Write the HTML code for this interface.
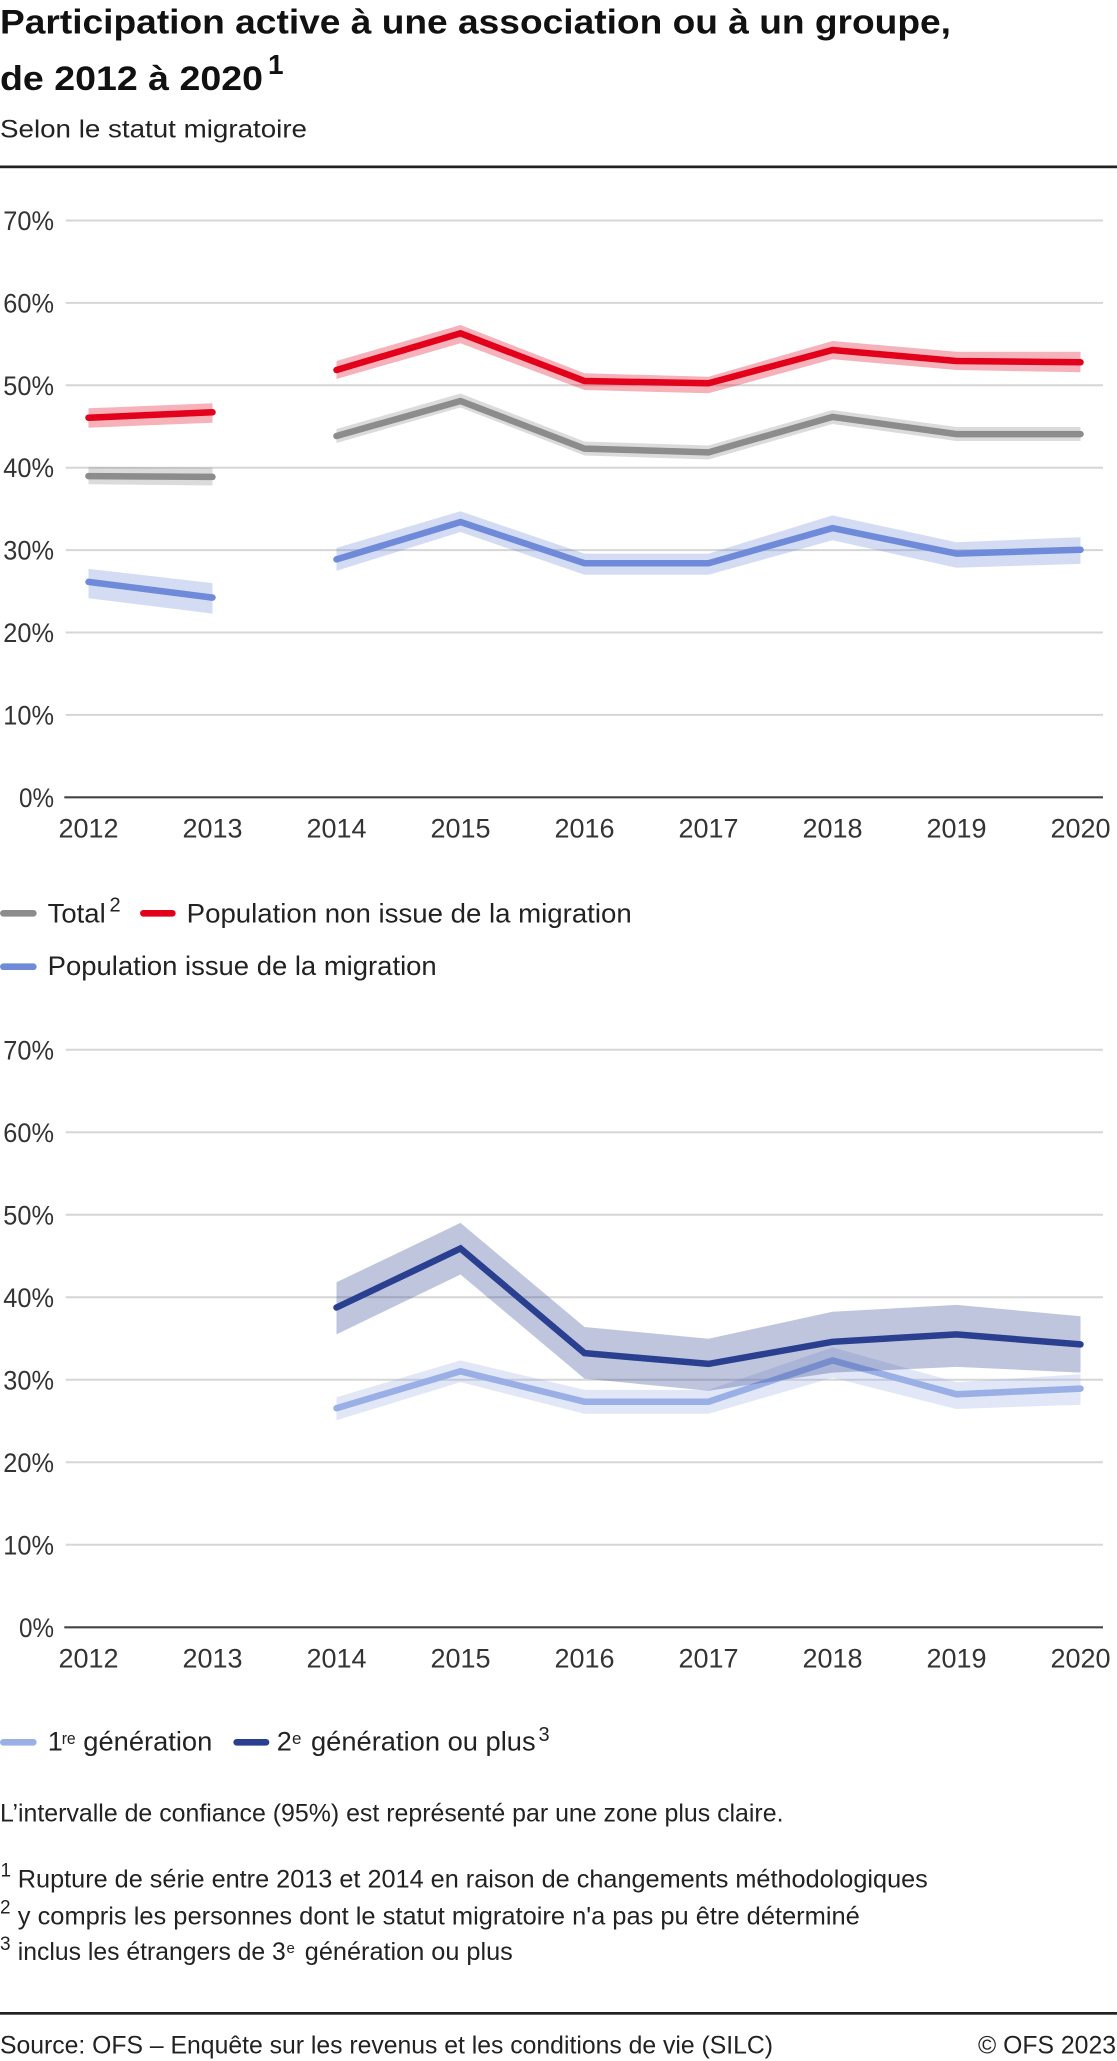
<!DOCTYPE html>
<html><head><meta charset="utf-8"><style>
html,body{margin:0;padding:0;background:#fff;}
svg{display:block;}
text{font-family:"Liberation Sans",sans-serif;}
</style></head><body>
<svg width="1117" height="2061" viewBox="0 0 1117 2061" xmlns="http://www.w3.org/2000/svg">
<rect x="0" y="0" width="1117" height="2061" fill="#fff"/>
<!-- Title -->
<text x="0" y="33.3" font-size="34" font-weight="bold" fill="#111" textLength="951" lengthAdjust="spacingAndGlyphs">Participation active à une association ou à un groupe,</text>
<text x="0" y="90" font-size="34" font-weight="bold" fill="#111" textLength="263" lengthAdjust="spacingAndGlyphs">de 2012 à 2020</text>
<text x="268" y="74" font-size="28" font-weight="bold" fill="#111">1</text>
<text x="0" y="137.3" font-size="25" fill="#222" textLength="307" lengthAdjust="spacingAndGlyphs">Selon le statut migratoire</text>
<rect x="0" y="165.5" width="1117" height="2.7" fill="#222"/>

<!-- Chart 1 grid -->
<g stroke="#d6d6d6" stroke-width="2">
<line x1="65.7" x2="1103" y1="714.9" y2="714.9"/>
<line x1="65.7" x2="1103" y1="632.5" y2="632.5"/>
<line x1="65.7" x2="1103" y1="550.1" y2="550.1"/>
<line x1="65.7" x2="1103" y1="467.7" y2="467.7"/>
<line x1="65.7" x2="1103" y1="385.3" y2="385.3"/>
<line x1="65.7" x2="1103" y1="302.9" y2="302.9"/>
<line x1="65.7" x2="1103" y1="220.5" y2="220.5"/>
</g>
<g font-size="27" fill="#333" text-anchor="end">
<text x="54" y="806.8" textLength="35" lengthAdjust="spacingAndGlyphs">0%</text>
<text x="54" y="724.4" textLength="50.7" lengthAdjust="spacingAndGlyphs">10%</text>
<text x="54" y="642" textLength="50.7" lengthAdjust="spacingAndGlyphs">20%</text>
<text x="54" y="559.6" textLength="50.7" lengthAdjust="spacingAndGlyphs">30%</text>
<text x="54" y="477.2" textLength="50.7" lengthAdjust="spacingAndGlyphs">40%</text>
<text x="54" y="394.8" textLength="50.7" lengthAdjust="spacingAndGlyphs">50%</text>
<text x="54" y="312.4" textLength="50.7" lengthAdjust="spacingAndGlyphs">60%</text>
<text x="54" y="230" textLength="50.7" lengthAdjust="spacingAndGlyphs">70%</text>
</g>

<!-- Chart 1 bands -->
<g opacity="0.3">
<polygon fill="#8c8c8c" points="88.5,466.7 212.5,467.5 212.5,485.5 88.5,484.3"/>
<polygon fill="#8c8c8c" points="336.5,429 460.5,393.5 584.5,441.5 708.5,445.5 832.5,410 956.5,427 1080.5,427 1080.5,441 956.5,441 832.5,424 708.5,459.5 584.5,455.5 460.5,407.5 336.5,443"/>
<polygon fill="#e2001a" points="88.5,408.3 212.5,403.3 212.5,422.7 88.5,427.7"/>
<polygon fill="#e2001a" points="336.5,361 460.5,325 584.5,373.3 708.5,376.7 832.5,341 956.5,351.7 1080.5,351.7 1080.5,372.3 956.5,370 832.5,359.3 708.5,393.3 584.5,390 460.5,343.3 336.5,379"/>
<polygon fill="#6f8ad9" points="88.5,568.9 212.5,583.1 212.5,613.6 88.5,598.3"/>
<polygon fill="#6f8ad9" points="336.5,547.9 460.5,511.3 584.5,553.6 708.5,553.6 832.5,515.4 956.5,542.2 1080.5,537.2 1080.5,563.9 956.5,567.8 832.5,540.3 708.5,574.7 584.5,574.7 460.5,532 336.5,570.8"/>
</g>
<!-- Chart 1 lines -->
<g fill="none" stroke-width="6.5" stroke-linecap="round" stroke-linejoin="miter">
<polyline stroke="#8c8c8c" points="88.5,476.1 212.5,476.9"/>
<polyline stroke="#8c8c8c" points="336.5,436 460.5,401 584.5,448.6 708.5,452.4 832.5,416.9 956.5,434.1 1080.5,434.1"/>
<polyline stroke="#e2001a" points="88.5,417.7 212.5,412.3"/>
<polyline stroke="#e2001a" points="336.5,370 460.5,333.3 584.5,381 708.5,383.3 832.5,350 956.5,361 1080.5,362.3"/>
<polyline stroke="#6f8ad9" points="88.5,581.9 212.5,597.6"/>
<polyline stroke="#6f8ad9" points="336.5,559.4 460.5,522 584.5,563.2 708.5,563.2 832.5,528.1 956.5,553.6 1080.5,549.8"/>
</g>
<line x1="64.3" x2="1103" y1="797.3" y2="797.3" stroke="#444" stroke-width="2.2"/>
<g font-size="27" fill="#333" text-anchor="middle">
<text x="88.5" y="837.7">2012</text>
<text x="212.5" y="837.7">2013</text>
<text x="336.5" y="837.7">2014</text>
<text x="460.5" y="837.7">2015</text>
<text x="584.5" y="837.7">2016</text>
<text x="708.5" y="837.7">2017</text>
<text x="832.5" y="837.7">2018</text>
<text x="956.5" y="837.7">2019</text>
<text x="1080.5" y="837.7">2020</text>
</g>

<!-- Legend 1 -->
<g stroke-width="6.7" stroke-linecap="round">
<line x1="3.4" x2="33.3" y1="913.3" y2="913.3" stroke="#8c8c8c"/>
<line x1="143.4" x2="172.3" y1="913.3" y2="913.3" stroke="#e2001a"/>
<line x1="3.4" x2="33.3" y1="966.7" y2="966.7" stroke="#6f8ad9"/>
</g>
<g fill="#222">
<text x="47.7" y="922.3" font-size="27" textLength="58" lengthAdjust="spacingAndGlyphs">Total</text>
<text x="109.5" y="911.7" font-size="20">2</text>
<text x="186.7" y="922.3" font-size="27" textLength="445" lengthAdjust="spacingAndGlyphs">Population non issue de la migration</text>
<text x="47.7" y="975" font-size="27" textLength="389" lengthAdjust="spacingAndGlyphs">Population issue de la migration</text>
</g>

<!-- Chart 2 grid -->
<g stroke="#d6d6d6" stroke-width="2">
<line x1="65.7" x2="1103" y1="1544.8" y2="1544.8"/>
<line x1="65.7" x2="1103" y1="1462.3" y2="1462.3"/>
<line x1="65.7" x2="1103" y1="1379.8" y2="1379.8"/>
<line x1="65.7" x2="1103" y1="1297.3" y2="1297.3"/>
<line x1="65.7" x2="1103" y1="1214.8" y2="1214.8"/>
<line x1="65.7" x2="1103" y1="1132.3" y2="1132.3"/>
<line x1="65.7" x2="1103" y1="1049.8" y2="1049.8"/>
</g>
<g font-size="27" fill="#333" text-anchor="end">
<text x="54" y="1636.8" textLength="35" lengthAdjust="spacingAndGlyphs">0%</text>
<text x="54" y="1554.3" textLength="50.7" lengthAdjust="spacingAndGlyphs">10%</text>
<text x="54" y="1471.8" textLength="50.7" lengthAdjust="spacingAndGlyphs">20%</text>
<text x="54" y="1389.3" textLength="50.7" lengthAdjust="spacingAndGlyphs">30%</text>
<text x="54" y="1306.8" textLength="50.7" lengthAdjust="spacingAndGlyphs">40%</text>
<text x="54" y="1224.3" textLength="50.7" lengthAdjust="spacingAndGlyphs">50%</text>
<text x="54" y="1141.8" textLength="50.7" lengthAdjust="spacingAndGlyphs">60%</text>
<text x="54" y="1059.3" textLength="50.7" lengthAdjust="spacingAndGlyphs">70%</text>
</g>

<!-- Chart 2 series -->
<polygon fill="#9aafe5" opacity="0.3" points="336.5,1397.3 460.5,1360.4 584.5,1389.9 708.5,1389.9 832.5,1347.4 956.5,1382.1 1080.5,1374.3 1080.5,1404.7 956.5,1409 832.5,1377.8 708.5,1413.8 584.5,1413.8 460.5,1382.1 336.5,1420.3"/>
<polyline fill="none" stroke="#9aafe5" stroke-width="6.5" stroke-linecap="round" points="336.5,1408.2 460.5,1371.3 584.5,1401.7 708.5,1401.7 832.5,1360.4 956.5,1394.3 1080.5,1388.6"/>
<polygon fill="#2a3f8f" opacity="0.3" points="336.5,1282.3 460.5,1222.9 584.5,1327 708.5,1338.7 832.5,1311.8 956.5,1304.9 1080.5,1316.2 1080.5,1372.6 956.5,1366.9 832.5,1372.6 708.5,1390.8 584.5,1378.6 460.5,1274.5 336.5,1334.4"/>
<polyline fill="none" stroke="#2a3f8f" stroke-width="6.5" stroke-linecap="round" points="336.5,1307.5 460.5,1248.5 584.5,1353.1 708.5,1363.9 832.5,1341.8 956.5,1334.4 1080.5,1344.4"/>
<line x1="64.3" x2="1103" y1="1627.3" y2="1627.3" stroke="#444" stroke-width="2.2"/>
<g font-size="27" fill="#333" text-anchor="middle">
<text x="88.5" y="1667.7">2012</text>
<text x="212.5" y="1667.7">2013</text>
<text x="336.5" y="1667.7">2014</text>
<text x="460.5" y="1667.7">2015</text>
<text x="584.5" y="1667.7">2016</text>
<text x="708.5" y="1667.7">2017</text>
<text x="832.5" y="1667.7">2018</text>
<text x="956.5" y="1667.7">2019</text>
<text x="1080.5" y="1667.7">2020</text>
</g>

<!-- Legend 2 -->
<g stroke-width="6.7" stroke-linecap="round">
<line x1="3.4" x2="33.3" y1="1742.3" y2="1742.3" stroke="#9aafe5"/>
<line x1="236.7" x2="266" y1="1742.3" y2="1742.3" stroke="#2a3f8f"/>
</g>
<g fill="#222">
<text x="47.7" y="1750.7" font-size="27">1</text>
<text x="61.7" y="1744" font-size="17" textLength="14" lengthAdjust="spacingAndGlyphs">re</text>
<text x="83.3" y="1750.7" font-size="27" textLength="129" lengthAdjust="spacingAndGlyphs">génération</text>
<text x="276.7" y="1750.7" font-size="27">2</text>
<text x="292" y="1744" font-size="17">e</text>
<text x="311" y="1750.7" font-size="27" textLength="224.6" lengthAdjust="spacingAndGlyphs">génération ou plus</text>
<text x="538.5" y="1741" font-size="20">3</text>
</g>

<!-- Notes -->
<g fill="#222" font-size="25">
<text x="0" y="1821.7" textLength="783.5" lengthAdjust="spacingAndGlyphs">L’intervalle de confiance (95%) est représenté par une zone plus claire.</text>
<text x="0.5" y="1876.7" font-size="19">1</text>
<text x="17.8" y="1887.3" textLength="910" lengthAdjust="spacingAndGlyphs">Rupture de série entre 2013 et 2014 en raison de changements méthodologiques</text>
<text x="0" y="1913.3" font-size="19">2</text>
<text x="17.8" y="1924.3" textLength="842" lengthAdjust="spacingAndGlyphs">y compris les personnes dont le statut migratoire n'a pas pu être déterminé</text>
<text x="0" y="1950" font-size="19">3</text>
<text x="17.8" y="1960" textLength="268" lengthAdjust="spacingAndGlyphs">inclus les étrangers de 3</text>
<text x="286.5" y="1953" font-size="15">e</text>
<text x="304.8" y="1960" textLength="208" lengthAdjust="spacingAndGlyphs">génération ou plus</text>
</g>
<rect x="0" y="2012" width="1117" height="2.7" fill="#222"/>
<g fill="#222" font-size="25">
<text x="0" y="2053.3" textLength="773" lengthAdjust="spacingAndGlyphs">Source: OFS – Enquête sur les revenus et les conditions de vie (SILC)</text>
<text x="1116" y="2053.3" text-anchor="end" textLength="138" lengthAdjust="spacingAndGlyphs">© OFS 2023</text>
</g>
</svg>
</body></html>
